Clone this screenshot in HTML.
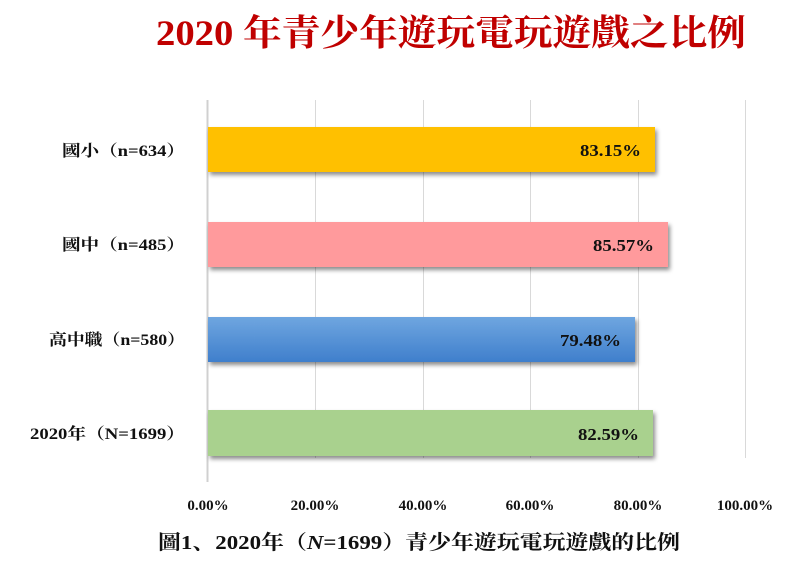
<!DOCTYPE html>
<html><head><meta charset="utf-8"><style>
html,body{margin:0;padding:0;background:#fff;width:810px;height:569px;overflow:hidden}
text{font-family:"Liberation Serif","Noto Serif CJK SC","Noto Sans CJK TC",serif;font-weight:bold}
</style></head><body>
<svg width="810" height="569" xmlns="http://www.w3.org/2000/svg">
<defs>
<linearGradient id="bl" x1="0" y1="0" x2="0" y2="1"><stop offset="0" stop-color="#6fa6e0"/><stop offset="1" stop-color="#3f7fcc"/></linearGradient>
<filter id="sh" x="-5%" y="-20%" width="115%" height="160%"><feDropShadow dx="2" dy="3" stdDeviation="2" flood-color="#000" flood-opacity="0.45"/></filter>
</defs>
<text x="156" y="45" font-size="36" fill="#c00000" textLength="590" lengthAdjust="spacingAndGlyphs">2020 年青少年遊玩電玩遊戲之比例</text>
<g stroke="#d9d9d9" stroke-width="1">
<line x1="315.5" y1="100" x2="315.5" y2="458"/>
<line x1="423.5" y1="100" x2="423.5" y2="458"/>
<line x1="530.5" y1="100" x2="530.5" y2="458"/>
<line x1="638.5" y1="100" x2="638.5" y2="458"/>
<line x1="745.5" y1="100" x2="745.5" y2="458"/>
</g>
<line x1="207.5" y1="100" x2="207.5" y2="482" stroke="#d0d0d0" stroke-width="2"/>
<g filter="url(#sh)">
<rect x="208" y="127" width="447" height="45" fill="#ffc000"/>
<rect x="208" y="222" width="460" height="45" fill="#ff9a9c"/>
<rect x="208" y="317" width="427" height="45" fill="url(#bl)"/>
<rect x="208" y="410" width="445" height="46" fill="#a9d18e"/>
</g>
<g font-size="17" fill="#111" lengthAdjust="spacingAndGlyphs">
<text x="580" y="156" textLength="61" lengthAdjust="spacingAndGlyphs">83.15%</text>
<text x="593" y="251" textLength="61" lengthAdjust="spacingAndGlyphs">85.57%</text>
<text x="560" y="346" textLength="61" lengthAdjust="spacingAndGlyphs">79.48%</text>
<text x="578" y="440" textLength="61" lengthAdjust="spacingAndGlyphs">82.59%</text>
</g>
<g font-size="16" fill="#111">
<text x="62" y="156" textLength="123" lengthAdjust="spacingAndGlyphs">國小（n=634）</text>
<text x="62" y="250" textLength="123" lengthAdjust="spacingAndGlyphs">國中（n=485）</text>
<text x="49" y="345" textLength="136" lengthAdjust="spacingAndGlyphs">高中職（n=580）</text>
<text x="30" y="439" textLength="155" lengthAdjust="spacingAndGlyphs">2020年（N=1699）</text>
</g>
<g font-size="15" fill="#111" text-anchor="middle">
<text x="208" y="510">0.00%</text>
<text x="315" y="510">20.00%</text>
<text x="423" y="510">40.00%</text>
<text x="530" y="510">60.00%</text>
<text x="638" y="510">80.00%</text>
<text x="745" y="510">100.00%</text>
</g>
<text x="158" y="549" font-size="20" fill="#111" textLength="522" lengthAdjust="spacingAndGlyphs">圖1、2020年（<tspan font-style="italic">N</tspan>=1699）青少年遊玩電玩遊戲的比例</text>
</svg>
</body></html>
